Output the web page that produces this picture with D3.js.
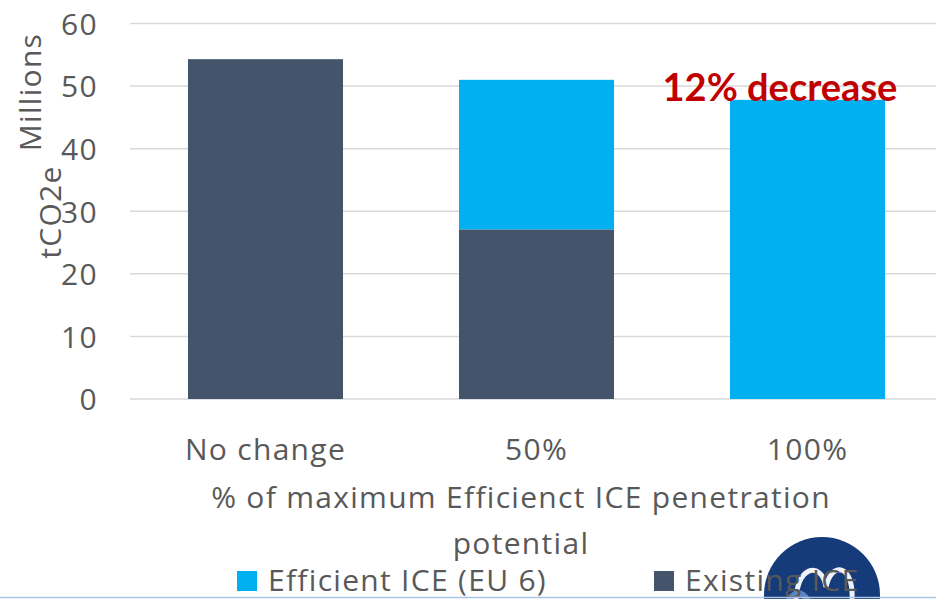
<!DOCTYPE html>
<html>
<head>
<meta charset="utf-8">
<script src="https://cdn.jsdelivr.net/npm/d3@7"></script>
<style>
  html, body { margin: 0; padding: 0; background: #fff; }
  svg { display: block; }
</style>
</head>
<body>
<svg id="chart" width="936" height="599"></svg>
<script>
// Emissions (million tCO2e) by share of efficient ICE penetration
const categories = ["No change", "50%", "100%"];
const existingICE = [54.3, 27.1, 0];
const efficientICE = [0, 23.9, 47.8];
const yTicks = [0, 10, 20, 30, 40, 50, 60];
const seriesNames = ["Efficient ICE (EU 6)", "Existing ICE"];
const annotation = "12% decrease";

const colors = { efficient: "#00B0F0", existing: "#44546A" };
const textColor = "#595959";
const font = "'Open Sans', 'Noto Sans', sans-serif";
const fontSize = 30;
const spacing = 1.3;

const svg = d3.select("#chart");

function styleText(sel) {
  return sel.attr("font-family", font).attr("font-size", fontSize)
    .attr("letter-spacing", spacing).attr("fill", textColor);
}

const y = d3.scaleLinear().domain([0, 60]).range([399, 23.5]);
const x = d3.scaleBand().domain(categories).range([130, 943])
  .paddingInner(0.428).paddingOuter(0.214);

// Gridlines
svg.append("g").selectAll("line").data(yTicks).join("line")
  .attr("x1", 130).attr("x2", 936)
  .attr("y1", d => y(d)).attr("y2", d => y(d))
  .attr("stroke", "#D9D9D9").attr("stroke-width", 1.5);

// Y axis tick labels
const yAxis = d3.axisLeft(y).tickValues(yTicks).tickSize(0).tickPadding(0);
const gy = svg.append("g").attr("transform", "translate(98,0)").call(yAxis);
gy.select(".domain").remove();
styleText(gy.selectAll("text")).attr("dy", "0.36em");

// Stacked bars
const stackData = categories.map((c, i) => ({ cat: c, existing: existingICE[i], efficient: efficientICE[i] }));
const layers = d3.stack().keys(["existing", "efficient"])(stackData);
svg.append("g").selectAll("g").data(layers).join("g")
  .attr("fill", d => colors[d.key])
  .selectAll("rect").data(d => d.filter(s => s[1] - s[0] > 0)).join("rect")
  .attr("x", d => x(d.data.cat))
  .attr("width", x.bandwidth())
  .attr("y", d => y(d[1]))
  .attr("height", d => y(d[0]) - y(d[1]));

// Category labels
styleText(svg.append("g").selectAll("text").data(categories).join("text"))
  .attr("x", d => x(d) + x.bandwidth() / 2)
  .attr("y", 460)
  .attr("text-anchor", "middle")
  .text(d => d);

// X axis title
styleText(svg.append("text")).attr("x", 521).attr("y", 508).attr("text-anchor", "middle")
  .text("% of maximum Efficienct ICE penetration");
styleText(svg.append("text")).attr("x", 521).attr("y", 554).attr("text-anchor", "middle")
  .text("potential");

// Y axis titles
styleText(svg.append("text")).attr("transform", "translate(41,92) rotate(-90)")
  .attr("text-anchor", "middle").text("Millions");
styleText(svg.append("text")).attr("transform", "translate(61,212) rotate(-90)")
  .attr("text-anchor", "middle").text("tCO2e");

// Annotation over the 100% bar
svg.append("text").attr("x", 780).attr("y", 101).attr("text-anchor", "middle")
  .attr("font-family", "Lato, 'Open Sans', sans-serif").attr("font-weight", 700)
  .attr("font-size", 38).attr("fill", "#C00000")
  .text(annotation);

// Logo mark in the bottom-right corner
const logo = svg.append("g").attr("transform", "translate(822,595)");
logo.append("circle").attr("r", 58).attr("fill", "#163B7A");
logo.append("path")
  .attr("d", "M-26,12 C-28,-30 0,-35 4,-8 C10,-35 32,-30 30,5")
  .attr("fill", "none").attr("stroke", "#EEF2F8").attr("stroke-width", 5);
logo.append("path")
  .attr("d", "M-40,30 C-36,-5 -20,-10 -12,10")
  .attr("fill", "none").attr("stroke", "#5E86BE").attr("stroke-width", 6);

// Legend
const legendX = [237, 654];
const legendKeys = ["efficient", "existing"];
const lg = svg.append("g").selectAll("g").data(seriesNames).join("g")
  .attr("transform", (d, i) => `translate(${legendX[i]},571)`);
lg.append("rect").attr("width", 20).attr("height", 20).attr("fill", (d, i) => colors[legendKeys[i]]);
styleText(lg.append("text")).attr("x", 31).attr("y", 20).text(d => d);

// Bottom rule
svg.append("line").attr("x1", 0).attr("x2", 936).attr("y1", 597.5).attr("y2", 597.5)
  .attr("stroke", "#A9C4E4").attr("stroke-width", 1.5);
</script>
</body>
</html>
